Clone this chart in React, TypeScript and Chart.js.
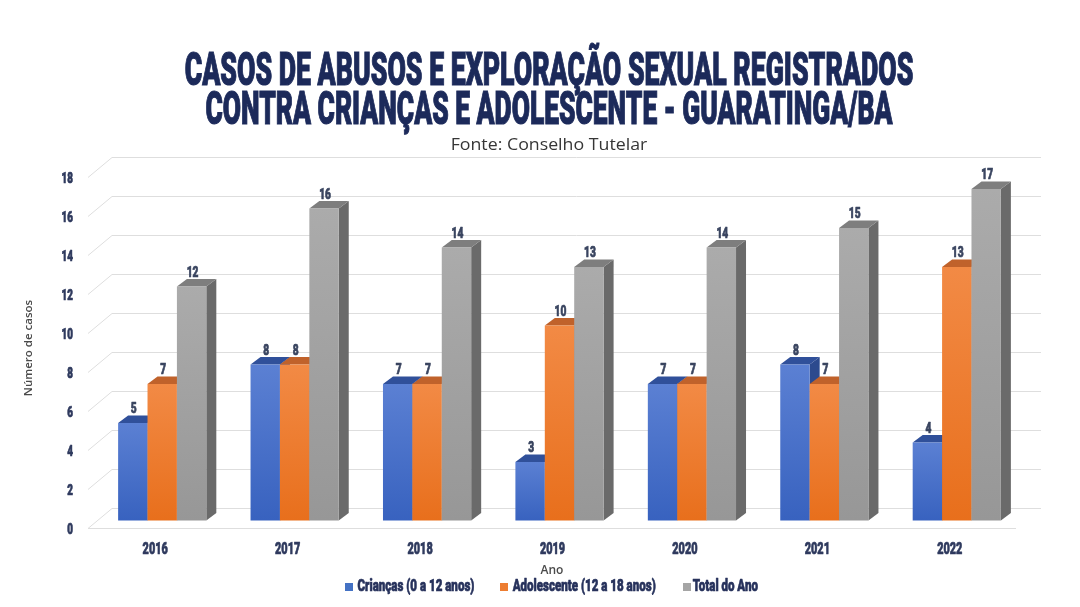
import React, { useEffect, useLayoutEffect, useRef, useState } from "react";
import { Chart, registerables } from "chart.js";

Chart.register(...registerables);

// ---------- data ----------
const years = ["2016", "2017", "2018", "2019", "2020", "2021", "2022"];
const criancas = [5, 8, 7, 3, 7, 8, 4];
const adolescentes = [7, 8, 7, 10, 7, 7, 13];
const totalAno = [12, 16, 14, 13, 14, 15, 17];
const yTickValues = [0, 2, 4, 6, 8, 10, 12, 14, 16, 18];
const seriesLabels = ["Crianças (0 a 12 anos)", "Adolescente (12 a 18 anos)", "Total do Ano"];
const titleLines = [
  "CASOS DE ABUSOS E EXPLORAÇÃO SEXUAL REGISTRADOS",
  "CONTRA CRIANÇAS E ADOLESCENTE - GUARATINGA/BA",
];
const subtitleText = "Fonte: Conselho Tutelar";
const yAxisTitle = "Número de casos";
const xAxisTitle = "Ano";

// ---------- styles ----------
const palette = [
  { front: ["#5b80d3", "#3862bf"], top: "#30509a", side: "#2c4a8e", legend: "#4472c4" },
  { front: ["#f28a45", "#e86f1c"], top: "#c0622b", side: "#b25623", legend: "#ed7d31" },
  { front: ["#ababab", "#979797"], top: "#7e7e7e", side: "#6a6a6a", legend: "#a5a5a5" },
];
const DX = 10;
const DY = 7.5;
const COND_FAMILY = "Roboto, 'DejaVu Sans', sans-serif";
const INK = "#2f3a5e";
const GRID = "#dedede";

function condText(
  ctx: CanvasRenderingContext2D,
  text: string,
  x: number,
  y: number,
  size: number,
  color: string,
  align: CanvasTextAlign,
  sx = 0.66
) {
  ctx.save();
  ctx.font = `900 ${size}px ${COND_FAMILY}`;
  ctx.fillStyle = color;
  ctx.strokeStyle = color;
  ctx.lineWidth = 0.7;
  ctx.lineJoin = "round";
  ctx.textBaseline = "alphabetic";
  ctx.textAlign = align;
  ctx.translate(x, y);
  ctx.scale(sx, 1);
  ctx.fillText(text, 0, 0);
  ctx.strokeText(text, 0, 0);
  ctx.restore();
}

function poly(ctx: CanvasRenderingContext2D, pts: number[][], fill: string) {
  ctx.beginPath();
  ctx.moveTo(pts[0][0], pts[0][1]);
  for (let i = 1; i < pts.length; i++) ctx.lineTo(pts[i][0], pts[i][1]);
  ctx.closePath();
  ctx.fillStyle = fill;
  ctx.fill();
}

const threeDPlugin = {
  id: "threeD",
  beforeDatasetsDraw(chart: any) {
    const ctx: CanvasRenderingContext2D = chart.ctx;
    const { left, right } = chart.chartArea;
    const ys = chart.scales.y;
    ctx.save();
    ctx.strokeStyle = GRID;
    ctx.lineWidth = 1;
    yTickValues.forEach((v) => {
      const yb = ys.getPixelForValue(v);
      const front = Math.round(yb + 7.5) + 0.5;
      const back = Math.round(yb - 12.5) + 0.5;
      ctx.beginPath();
      ctx.moveTo(left - 8, front);
      ctx.lineTo(left + 16, back);
      ctx.lineTo(right + 18, back);
      ctx.stroke();
    });
    const f0 = Math.round(ys.getPixelForValue(0) + 7.5) + 0.5;
    ctx.beginPath();
    ctx.moveTo(left - 8, f0);
    ctx.lineTo(right - 7, f0);
    ctx.stroke();
    ctx.restore();
  },
  afterDatasetsDraw(chart: any) {
    const ctx: CanvasRenderingContext2D = chart.ctx;
    const n = chart.data.labels.length;
    ctx.save();
    for (let i = 0; i < n; i++) {
      for (let d = 0; d < chart.data.datasets.length; d++) {
        const el = chart.getDatasetMeta(d).data[i];
        const { x, y, base, width } = el.getProps(["x", "y", "base", "width"], true);
        const l = x - width / 2;
        const r = x + width / 2;
        const c = palette[d];
        // side face
        poly(ctx, [[r, y], [r + DX, y - DY], [r + DX, base - DY], [r, base]], c.side);
        // top face
        poly(ctx, [[l, y], [l + DX, y - DY], [r + DX, y - DY], [r, y]], c.top);
        // front face
        const g = ctx.createLinearGradient(0, y, 0, base);
        g.addColorStop(0, c.front[0]);
        g.addColorStop(1, c.front[1]);
        ctx.fillStyle = g;
        ctx.fillRect(l, y, r - l, base - y);
      }
    }
    ctx.restore();
  },
  afterDraw(chart: any) {
    const ctx: CanvasRenderingContext2D = chart.ctx;
    const ys = chart.scales.y;
    const xs = chart.scales.x;
    // y tick labels
    yTickValues.forEach((v) => {
      const yb = ys.getPixelForValue(v) + 7.5;
      condText(ctx, String(v), 73, yb + 5.5, 14.5, INK, "right", 0.68);
    });
    // x labels
    years.forEach((yr, i) => {
      condText(ctx, yr, xs.getPixelForValue(i) - 7, 554, 16.5, INK, "center", 0.66);
    });
    // data labels
    chart.data.datasets.forEach((ds: any, d: number) => {
      const meta = chart.getDatasetMeta(d);
      meta.data.forEach((el: any, i: number) => {
        const { x, y } = el.getProps(["x", "y"], true);
        condText(ctx, String(ds.data[i]), x + 1, y - 10, 15, "#3a4560", "center", 0.68);
      });
    });
    // axis titles
    ctx.save();
    ctx.fillStyle = "#4a4a4a";
    ctx.font = "600 11.5px 'Open Sans', sans-serif";
    ctx.textAlign = "center";
    ctx.textBaseline = "middle";
    ctx.translate(29, 348);
    ctx.rotate(-Math.PI / 2);
    ctx.fillText(yAxisTitle, 0, 0);
    ctx.restore();
    ctx.save();
    ctx.fillStyle = "#4a4a4a";
    ctx.font = "600 12px 'Open Sans', sans-serif";
    ctx.textAlign = "center";
    ctx.textBaseline = "alphabetic";
    ctx.fillText(xAxisTitle, 552, 574);
    ctx.restore();
    // legend
    const legendSquares = [345, 500, 683];
    const legendText = [357.5, 512.7, 692.7];
    seriesLabels.forEach((lab, k) => {
      ctx.fillStyle = palette[k].legend;
      ctx.fillRect(legendSquares[k], 583, 8, 8);
      condText(ctx, lab, legendText[k], 591, 17, "#27325c", "left", 0.68);
    });
  },
};

export default function App() {
  const canvasRef = useRef<HTMLCanvasElement | null>(null);
  const lineRefs = useRef<(HTMLSpanElement | null)[]>([]);
  const [scales, setScales] = useState<number[]>([1, 1, 1]);

  useLayoutEffect(() => {
    document.body.style.margin = "0";
    const targets = [729, 687, 197];
    const s = lineRefs.current.map((el, k) => (el ? targets[k] / el.offsetWidth : 1));
    setScales(s);
  }, []);

  useEffect(() => {
    if (!canvasRef.current) return;
    const chart = new Chart(canvasRef.current, {
      type: "bar",
      data: {
        labels: years,
        datasets: [
          { label: seriesLabels[0], data: criancas },
          { label: seriesLabels[1], data: adolescentes },
          { label: seriesLabels[2], data: totalAno },
        ].map((ds) => ({
          ...ds,
          backgroundColor: "rgba(0,0,0,0)",
          borderWidth: 0,
          categoryPercentage: 0.666,
          barPercentage: 1,
        })),
      },
      options: {
        responsive: false,
        animation: false,
        devicePixelRatio: 1,
        layout: { padding: { left: 96, right: 57, top: 169.5, bottom: 86.5 } },
        plugins: {
          legend: { display: false },
          title: { display: false },
          tooltip: { enabled: false },
        },
        scales: {
          x: { display: false, offset: true },
          y: { display: false, min: 0, max: 18 },
        },
      },
      plugins: [threeDPlugin],
    });
    return () => chart.destroy();
  }, []);

  const titleStyle = (top: number, k: number): React.CSSProperties => ({
    position: "absolute",
    left: 549,
    top,
    whiteSpace: "nowrap",
    fontFamily: "Roboto, 'DejaVu Sans', sans-serif",
    fontWeight: 900,
    fontSize: 46,
    lineHeight: "46px",
    color: "#1c2a5a",
    WebkitTextStroke: "1.2px #1c2a5a",
    transform: `translateX(-50%) scaleX(${scales[k]})`,
    transformOrigin: "center",
  });

  return (
    <div style={{ position: "relative", width: 1080, height: 607, background: "#ffffff", overflow: "hidden" }}>
      <canvas ref={canvasRef} width={1080} height={607} style={{ position: "absolute", left: 0, top: 0, width: 1080, height: 607 }} />
      <span ref={(el) => { lineRefs.current[0] = el; }} style={titleStyle(46, 0)}>{titleLines[0]}</span>
      <span ref={(el) => { lineRefs.current[1] = el; }} style={titleStyle(85, 1)}>{titleLines[1]}</span>
      <span
        ref={(el) => { lineRefs.current[2] = el; }}
        style={{
          position: "absolute",
          left: 549,
          top: 137,
          whiteSpace: "nowrap",
          fontFamily: "'Open Sans', sans-serif",
          fontSize: 15.5,
          lineHeight: "15px",
          color: "#363636",
          transform: `translateX(-50%) scaleX(${scales[2]})`,
          transformOrigin: "center",
        }}
      >
        {subtitleText}
      </span>
    </div>
  );
}
